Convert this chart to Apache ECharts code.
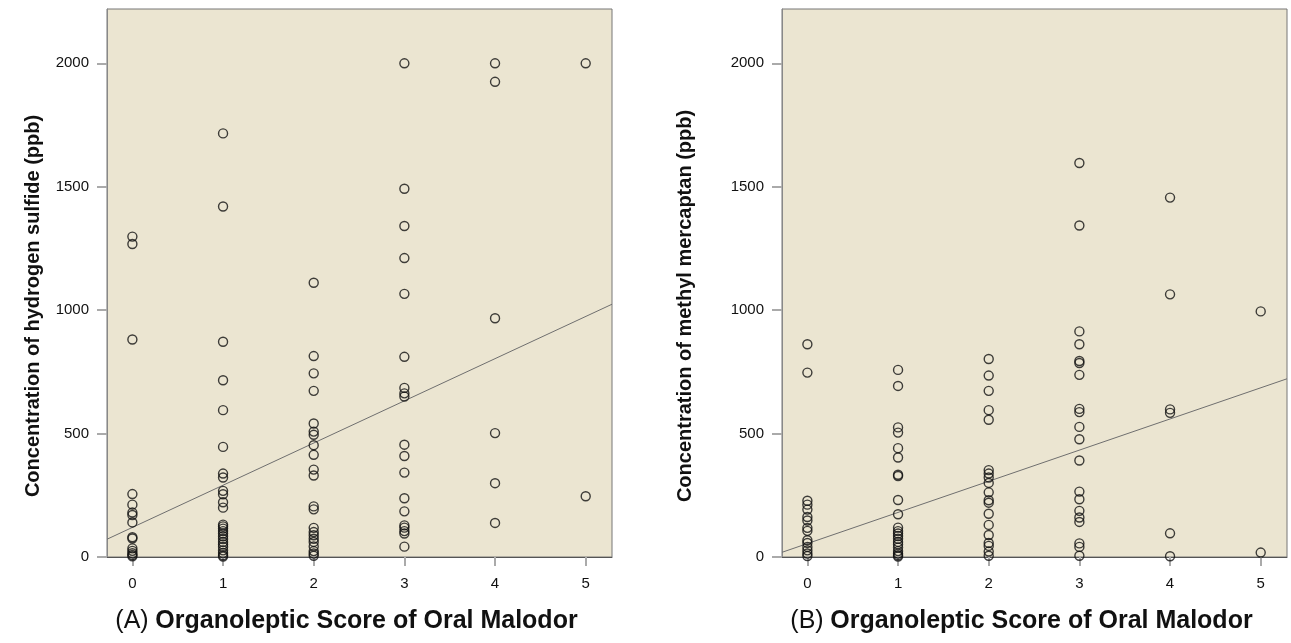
<!DOCTYPE html>
<html>
<head>
<meta charset="utf-8">
<script src="https://cdn.jsdelivr.net/npm/echarts@6/dist/echarts.min.js"></script>
<style>
  html, body { margin: 0; padding: 0; background: #fff; }
  #chart { width: 1291px; height: 643px; }
</style>
</head>
<body>
<div id="chart"></div>
<script>
// organoleptic scores (x categories)
var scores = [0, 1, 2, 3, 4, 5];
var scoreTicks = [0, 1, 2, 3, 4, 5];
var ppbTicks = [0, 500, 1000, 1500, 2000];

// (A) hydrogen sulfide (ppb), one list per score
var h2sByScore = [
    [1298, 1268, 881, 255, 212, 180, 170, 140, 80, 75, 35, 25, 15, 8, 3],
    [1716, 1420, 872, 716, 595, 446, 338, 322, 268, 254, 222, 200, 131, 124, 115, 105, 95, 84, 73, 61, 51, 41, 27, 16, 7, 2],
    [1111, 814, 744, 673, 541, 508, 495, 453, 414, 354, 330, 205, 193, 118, 101, 88, 74, 61, 43, 24, 14, 5],
    [2000, 1492, 1341, 1211, 1066, 811, 685, 663, 650, 455, 409, 342, 238, 185, 128, 119, 105, 95, 42],
    [2000, 1925, 967, 502, 299, 138],
    [2000, 246]
];

// (B) methyl mercaptan (ppb), one list per score
var mmByScore = [
    [862, 747, 228, 212, 192, 162, 148, 118, 106, 68, 57, 41, 27, 14, 4],
    [758, 693, 525, 504, 441, 403, 333, 328, 231, 173, 119, 105, 95, 85, 74, 61, 51, 38, 24, 14, 7, 2],
    [802, 735, 673, 595, 556, 352, 338, 322, 300, 262, 230, 220, 175, 130, 89, 57, 45, 22, 5],
    [1596, 1343, 914, 862, 794, 786, 738, 600, 587, 527, 477, 391, 265, 234, 187, 160, 142, 55, 41, 5],
    [1456, 1064, 598, 584, 96, 3],
    [995, 18]
];

// fit lines (end points at the frame edges)
var h2sFit = [[-0.28, 72], [5.29, 1024]];
var mmFit = [[-0.28, 19], [5.29, 722]];

function toPoints(groups) {
    var pts = [];
    for (var i = 0; i < groups.length; i++) {
        for (var j = 0; j < groups[i].length; j++) {
            pts.push([scores[i], groups[i][j]]);
        }
    }
    return pts;
}

var chart = echarts.init(document.getElementById('chart'));

var bg = '#ebe5d1';
var tickFont = 'Liberation Sans, Arial, sans-serif';
var titleFont = 'Liberation Sans, Arial, sans-serif';

function plain(v) { return String(v); }

function makeX(idx, letter) {
    return {
        gridIndex: idx,
        type: 'value',
        min: -0.28,
        max: 5.29,
        name: '{r|(' + letter + ')}  {b|Organoleptic Score of Oral Malodor}',
        nameLocation: 'middle',
        nameGap: 52,
        nameTextStyle: {
            padding: [0, 26, 0, 0],
            rich: {
                r: { fontFamily: titleFont, fontSize: 25, fontWeight: 'normal', color: '#111' },
                b: { fontFamily: titleFont, fontSize: 25, fontWeight: 'bold', color: '#111' }
            }
        },
        splitLine: { show: false },
        axisLine: { show: true, onZero: false, lineStyle: { color: '#555', width: 1 } },
        axisTick: { show: true, customValues: scoreTicks, length: 9, lineStyle: { color: '#aaa', width: 2 } },
        axisLabel: {
            customValues: scoreTicks,
            formatter: plain,
            margin: 19,
            fontFamily: tickFont,
            fontSize: 15,
            color: '#111'
        }
    };
}

function makeY(idx, title, gap) {
    return {
        gridIndex: idx,
        type: 'value',
        min: 0,
        max: 2220,
        name: title,
        nameLocation: 'middle',
        nameRotate: 90,
        nameGap: gap,
        nameTextStyle: {
            fontFamily: titleFont, fontSize: 20, fontWeight: 'bold', color: '#111',
            padding: [0, 46, 0, 0]
        },
        splitLine: { show: false },
        axisLine: { show: true, onZero: false, lineStyle: { color: '#888', width: 1 } },
        axisTick: { show: true, customValues: ppbTicks, length: 10, lineStyle: { color: '#aaa', width: 2 } },
        axisLabel: {
            customValues: ppbTicks,
            formatter: plain,
            margin: 18,
            fontFamily: tickFont,
            fontSize: 15,
            color: '#111'
        }
    };
}

function dots(idx, groups) {
    return {
        type: 'scatter',
        xAxisIndex: idx,
        yAxisIndex: idx,
        symbol: 'circle',
        symbolSize: 9,
        itemStyle: { color: 'rgba(0,0,0,0)', borderColor: '#111', borderWidth: 1.4 },
        data: toPoints(groups),
        z: 3
    };
}

function fit(idx, pts) {
    return {
        type: 'line',
        xAxisIndex: idx,
        yAxisIndex: idx,
        symbol: 'none',
        lineStyle: { color: '#6f6f6f', width: 1 },
        data: pts,
        z: 2
    };
}

chart.setOption({
    animation: false,
    backgroundColor: '#fff',
    grid: [
        { left: 107, top: 9, width: 505, height: 548, show: true, backgroundColor: bg, borderColor: '#777', borderWidth: 1 },
        { left: 782, top: 9, width: 505, height: 548, show: true, backgroundColor: bg, borderColor: '#777', borderWidth: 1 }
    ],
    xAxis: [makeX(0, 'A'), makeX(1, 'B')],
    yAxis: [
        makeY(0, 'Concentration of hydrogen sulfide (ppb)', 64),
        makeY(1, 'Concentration of methyl mercaptan (ppb)', 87)
    ],
    series: [
        fit(0, h2sFit),
        dots(0, h2sByScore),
        fit(1, mmFit),
        dots(1, mmByScore)
    ]
});
</script>
</body>
</html>
